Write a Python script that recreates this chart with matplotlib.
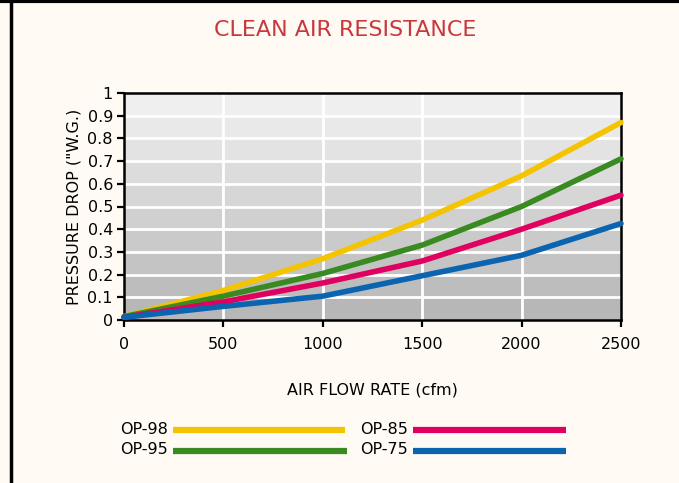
import matplotlib
matplotlib.use("Agg")
import matplotlib.pyplot as plt
import numpy as np
from matplotlib.lines import Line2D

flow = [0, 500, 1000, 1500, 2000, 2500]
series_names = ["OP-98", "OP-95", "OP-85", "OP-75"]
op98 = [0.015, 0.13, 0.27, 0.44, 0.635, 0.87]
op95 = [0.015, 0.105, 0.205, 0.33, 0.50, 0.71]
op85 = [0.012, 0.08, 0.163, 0.26, 0.40, 0.55]
op75 = [0.012, 0.06, 0.105, 0.195, 0.285, 0.425]
colors = ["#f5c400", "#3a8a22", "#e0005f", "#0a64b0"]
xticks = [0, 500, 1000, 1500, 2000, 2500]
yticks = [0, 0.1, 0.2, 0.3, 0.4, 0.5, 0.6, 0.7, 0.8, 0.9, 1]
ytick_labels = ["0", "0.1", "0.2", "0.3", "0.4", "0.5", "0.6", "0.7", "0.8", "0.9", "1"]

bg = "#fffbf4"
W, H = 679, 483
fig = plt.figure(figsize=(6.79, 4.83), dpi=100, facecolor=bg)
ax = fig.add_axes([124/W, 1-320/H, (621-124)/W, (320-93)/H])

# stepped gray gradient background
rows = np.linspace(0, 1, 10).reshape(-1, 1)
lo = np.array([0.72, 0.72, 0.72])
hi = np.array([0.94, 0.94, 0.94])
img = lo + (hi - lo) * rows[..., None]
img = np.repeat(img, 2, axis=1)
ax.imshow(img, extent=[0, 2500, 0, 1], origin="lower", aspect="auto",
          interpolation="nearest", zorder=0)

for v in xticks[1:-1]:
    ax.axvline(v, color="white", lw=2, zorder=1)
for v in yticks[1:-1]:
    ax.axhline(v, color="white", lw=2, zorder=1)

data = [op98, op95, op85, op75]
for name, ys, c in zip(series_names, data, colors):
    ax.plot(flow, ys, color=c, lw=4, label=name, zorder=3, solid_capstyle="round", clip_on=False)

ax.set_xlim(0, 2500)
ax.set_ylim(0, 1)
ax.set_xticks(xticks)
ax.set_xticklabels([str(v) for v in xticks])
ax.set_yticks(yticks)
ax.set_yticklabels(ytick_labels)
ax.tick_params(direction="out", length=5, width=1.6, color="black", labelsize=11.5, pad=3)
ax.tick_params(axis="x", pad=7)
for s in ax.spines.values():
    s.set_linewidth(1.8)
    s.set_color("black")

ax.set_ylabel('PRESSURE DROP ("W.G.)', fontsize=11.5, labelpad=4)
fig.text((124+621)/2/W, 1-390/H, "AIR FLOW RATE (cfm)", ha="center", va="center", fontsize=11.5)

fig.text(345/W, 1-30/H, "CLEAN AIR RESISTANCE", ha="center", va="center",
         fontsize=16, color="#c8393e")

# legend drawn manually (labels left of long line swatches)
leg_text_x = [120, 120, 360, 360]
leg_line_x = [(173, 345), (173, 347), (413, 566), (413, 566)]
leg_y = [430, 451, 430, 451]
for name, c, tx, (x0, x1), y in zip(series_names, colors, leg_text_x, leg_line_x, leg_y):
    fig.text(tx/W, 1-(y-1)/H, name, ha="left", va="center", fontsize=11.5)
    fig.add_artist(Line2D([x0/W, x1/W], [1-y/H, 1-y/H], color=c, lw=4.5,
                          transform=fig.transFigure, solid_capstyle="butt"))

# figure border (left & top)
fig.add_artist(Line2D([11/W, 11/W], [0, 1], color="black", lw=2.5, transform=fig.transFigure))
fig.add_artist(Line2D([0, 1], [1-1/H, 1-1/H], color="black", lw=3, transform=fig.transFigure))

fig.savefig("out.png", dpi=100, facecolor=bg)
